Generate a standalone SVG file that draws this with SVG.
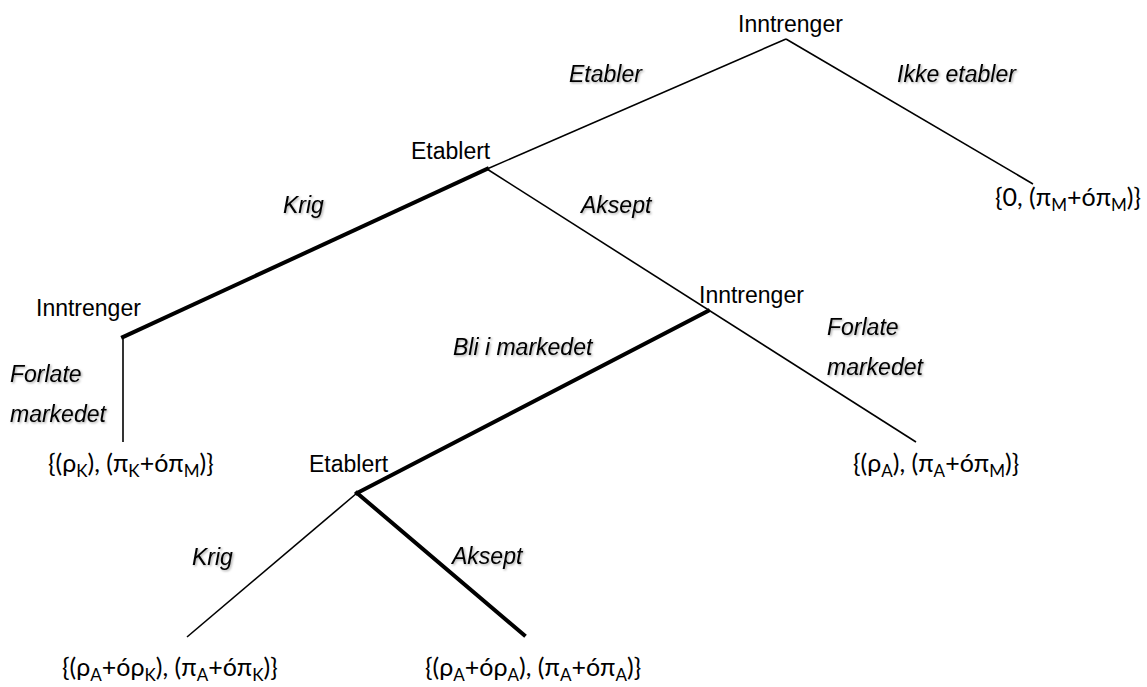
<svg xmlns="http://www.w3.org/2000/svg" width="1147" height="687" viewBox="0 0 1147 687">
<defs>
<filter id="sh" x="-10%" y="-20%" width="130%" height="160%">
<feDropShadow dx="1.2" dy="1.2" stdDeviation="0.8" flood-color="#000" flood-opacity="0.35"/>
</filter>
</defs>
<style>
.node{font-family:"Liberation Sans",Arial,sans-serif;font-size:23px;fill:#000}
.lab{font-family:"Liberation Sans",Arial,sans-serif;font-size:23px;font-style:italic;fill:#000;filter:url(#sh)}
.pay{font-family:Lato,"Open Sans",sans-serif;font-size:25px;fill:#000}
.s{font-size:17px}
.thin{stroke:#000;stroke-width:1.6;fill:none}
.thick{stroke:#000;stroke-width:4;fill:none;stroke-linecap:square}
</style>
<rect width="1147" height="687" fill="#fff"/>
<g id="connectors">
<line class="thin" x1="786" y1="39" x2="487" y2="169"/>
<line class="thin" x1="786" y1="39" x2="1033" y2="184"/>
<line class="thin" x1="487" y1="169" x2="916" y2="442"/>
<line class="thick" x1="487" y1="169" x2="123" y2="337"/>
<line class="thin" x1="123" y1="337" x2="123" y2="442"/>
<line class="thick" x1="708" y1="311" x2="357" y2="493"/>
<line class="thin" x1="357" y1="493" x2="187" y2="637"/>
<line class="thick" x1="357" y1="493" x2="524" y2="635"/>
<text class="lab" x="569" y="82">Etabler</text>
<text class="lab" x="897" y="82">Ikke etabler</text>
<text class="lab" x="283" y="213">Krig</text>
<text class="lab" x="581" y="213">Aksept</text>
<text class="lab" x="10" y="382">Forlate</text>
<text class="lab" x="10" y="422">markedet</text>
<text class="lab" x="827" y="335">Forlate</text>
<text class="lab" x="827" y="375">markedet</text>
<text class="lab" x="453" y="355">Bli i markedet</text>
<text class="lab" x="192" y="565">Krig</text>
<text class="lab" x="452" y="564">Aksept</text>
</g>
<g id="root"><text class="node" x="738" y="32">Inntrenger</text></g>
<g id="etablert1"><text class="node" x="411" y="159">Etablert</text></g>
<g id="inntrenger-left"><text class="node" x="36" y="316">Inntrenger</text></g>
<g id="inntrenger-right"><text class="node" x="699" y="303">Inntrenger</text></g>
<g id="etablert2"><text class="node" x="309" y="472">Etablert</text></g>
<g id="payoff-ikke"><text class="pay" x="995" y="206">{0, (π<tspan class="s" dy="5">M</tspan><tspan dy="-5">+óπ</tspan><tspan class="s" dy="5">M</tspan><tspan dy="-5">)}</tspan></text></g>
<g id="payoff-forlate-left"><text class="pay" x="48" y="472">{(ρ<tspan class="s" dy="5">K</tspan><tspan dy="-5">), (π</tspan><tspan class="s" dy="5">K</tspan><tspan dy="-5">+óπ</tspan><tspan class="s" dy="5">M</tspan><tspan dy="-5">)}</tspan></text></g>
<g id="payoff-forlate-right"><text class="pay" x="853" y="472">{(ρ<tspan class="s" dy="5">A</tspan><tspan dy="-5">), (π</tspan><tspan class="s" dy="5">A</tspan><tspan dy="-5">+óπ</tspan><tspan class="s" dy="5">M</tspan><tspan dy="-5">)}</tspan></text></g>
<g id="payoff-krig"><text class="pay" x="62" y="676">{(ρ<tspan class="s" dy="5">A</tspan><tspan dy="-5">+óρ</tspan><tspan class="s" dy="5">K</tspan><tspan dy="-5">), (π</tspan><tspan class="s" dy="5">A</tspan><tspan dy="-5">+óπ</tspan><tspan class="s" dy="5">K</tspan><tspan dy="-5">)}</tspan></text></g>
<g id="payoff-aksept"><text class="pay" x="425" y="676">{(ρ<tspan class="s" dy="5">A</tspan><tspan dy="-5">+óρ</tspan><tspan class="s" dy="5">A</tspan><tspan dy="-5">), (π</tspan><tspan class="s" dy="5">A</tspan><tspan dy="-5">+óπ</tspan><tspan class="s" dy="5">A</tspan><tspan dy="-5">)}</tspan></text></g>
</svg>
